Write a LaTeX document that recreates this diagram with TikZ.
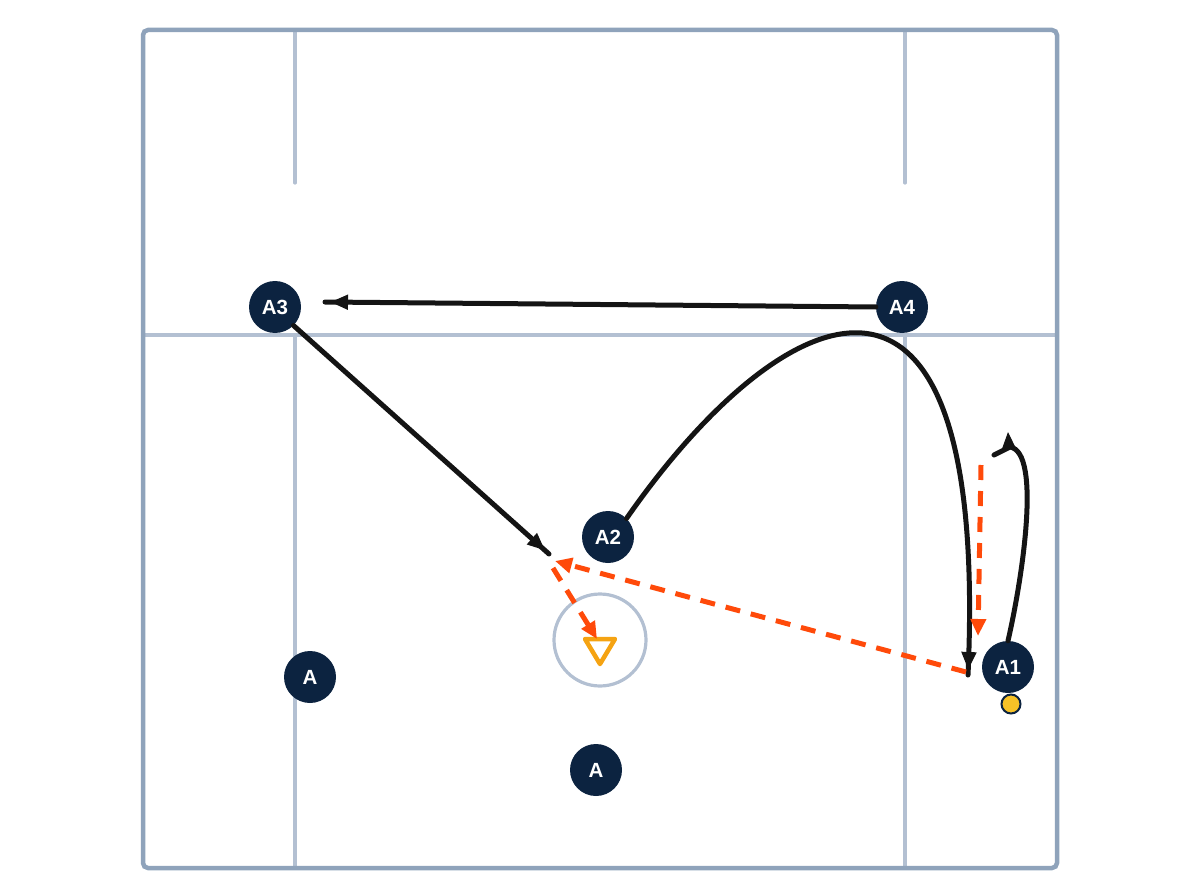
\documentclass[tikz,border=0pt]{standalone}
\usepackage{fontspec}
\setmainfont{Liberation Sans}
\usetikzlibrary{arrows.meta,decorations.markings}
\definecolor{navy}{HTML}{0C2340}
\definecolor{border}{HTML}{8FA3BB}
\definecolor{inner}{HTML}{B3C0D2}
\definecolor{runorange}{HTML}{FF4A0A}
\definecolor{coneorange}{HTML}{F5A312}
\definecolor{ballyellow}{HTML}{F7C227}
\tikzset{
  player/.style={circle,fill=navy,minimum size=52pt,inner sep=0pt,text=white,font=\fontsize{20.5}{20.5}\selectfont\bfseries},
  fieldline/.style={draw=inner,line width=3.2pt,line cap=round},
  runline/.style={draw=black!92,line width=5pt,line cap=round,postaction={decorate},
    decoration={markings,mark=at position -5pt with {\arrow{Triangle[length=18pt,width=14pt]}}}},
  passline/.style={draw=runorange,line width=5pt,dash pattern=on 15pt off 11pt,
    -{Triangle[length=17pt,width=15pt]}},
}
\begin{document}
\begin{tikzpicture}[x=1pt,y=-1pt]
\useasboundingbox (0,0) rectangle (1200,896);
% field
\draw[fieldline] (295,30) -- (295,183);
\draw[fieldline] (905,30) -- (905,183);
\draw[fieldline] (143,335) -- (1057,335);
\draw[fieldline] (295,335) -- (295,868);
\draw[fieldline] (905,335) -- (905,868);
\draw[draw=border,line width=4.5pt,rounded corners=5pt] (143,30) rectangle (1057,868);
% goal circle and cone
\node[circle,draw=inner,line width=3.2pt,minimum size=92pt,inner sep=0pt] (crease) at (600,640) {};
\draw[draw=coneorange,line width=4.5pt,line join=round] (585,639) -- (615,639) -- (600,664) -- cycle;
% players
\node[player] (A3) at (275,307) {A3};
\node[player] (A4) at (902,307) {A4};
\node[player] (A2) at (608,537) {A2};
\node[player] (A1) at (1008,667) {A1};
\node[player] (Aa) at (310,677) {A};
\node[player] (Ab) at (596,770) {A};
\node[circle,fill=ballyellow,draw=navy,line width=2pt,minimum size=19pt,inner sep=0pt] (ball) at (1011,704) {};
% coordinates
\coordinate (a3end) at (325,302);
\coordinate (spot) at (549,554);
\coordinate (a2end) at (968,675);
\coordinate (apex) at (1008,432);
\coordinate (hookend) at (994,455);
\coordinate (cutstart) at (981,465);
\coordinate (cutend) at (978,636);
\coordinate (passstart) at (966,672);
\coordinate (passend) at (555,561);
\coordinate (shotstart) at (553,568);
\coordinate (shotend) at (597,639);
% runs
\draw[runline] (A4.west) -- (a3end);
\draw[runline] (A3.south east) -- (spot);
\draw[runline] (A2.north east) .. controls (775,305) and (990,185) .. (a2end);
\draw[draw=black!92,line width=5pt,line cap=round,line join=round]
  (A1.north) .. controls (1022,580) and (1042,452) .. (1010,447) -- (hookend);
\draw[draw=black!92,line width=1pt,-{Triangle[length=17pt,width=14pt]}] (1009,450) -- (apex);
% passes
\draw[passline] (cutstart) -- (cutend);
\draw[passline] (passstart) -- (passend);
\draw[passline] (shotstart) -- (shotend);
\end{tikzpicture}
\end{document}
